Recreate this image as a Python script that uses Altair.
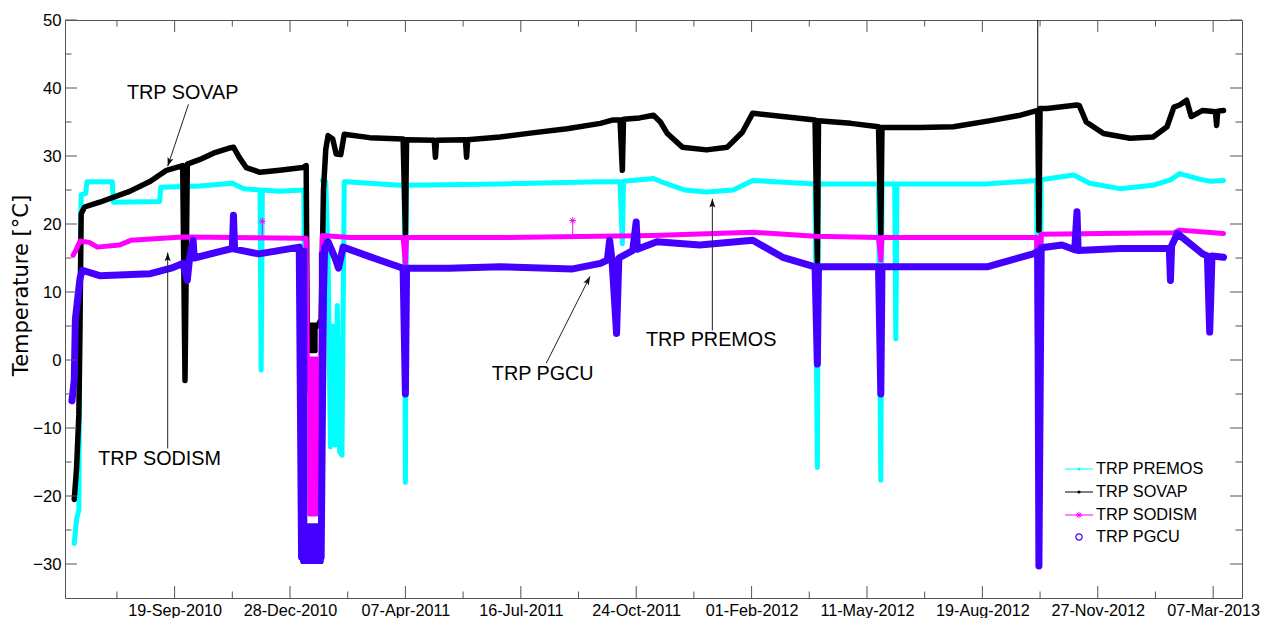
import math
import altair as alt
import pandas as pd

# ---------------- data ----------------
premos_dates = [
    "2010-06-24", "2010-06-26", "2010-06-28", "2010-06-29", "2010-06-30", "2010-07-04",
    "2010-07-05", "2010-07-27", "2010-07-28", "2010-09-06", "2010-09-07", "2010-10-11",
    "2010-11-08", "2010-11-18", "2010-12-02", "2010-12-03", "2010-12-04", "2010-12-19",
    "2011-01-09", "2011-01-10", "2011-01-11",
    "2011-01-25", "2011-01-28", "2011-01-30", "2011-02-01", "2011-02-03", "2011-02-05",
    "2011-02-07", "2011-02-09", "2011-02-11", "2011-02-13", "2011-02-15",
    "2011-04-02", "2011-04-06", "2011-04-07", "2011-04-08", "2011-06-28", "2011-09-23",
    "2011-10-10", "2011-10-12", "2011-10-13", "2011-11-08", "2011-11-18", "2011-12-05",
    "2011-12-24", "2012-01-16", "2012-02-02", "2012-03-27", "2012-03-29", "2012-03-30",
    "2012-05-21", "2012-05-23", "2012-05-24", "2012-06-04", "2012-06-05", "2012-06-06",
    "2012-08-23", "2012-10-05", "2012-10-07", "2012-10-09", "2012-11-06", "2012-11-20",
    "2012-12-16", "2013-01-14", "2013-01-29", "2013-02-06", "2013-02-23", "2013-03-04",
    "2013-03-16",
]
premos_values = [
    -27.0, -23.5, -22.0, 10.0, 24.3, 24.5,
    26.2, 26.2, 23.2, 23.3, 25.4, 25.6,
    26.0, 25.2, 25.0, -1.5, 25.0, 24.8,
    25.0, -20.0, None,
    26.4, 26.2, 15.0, -12.8, 5.0, -12.5,
    8.0, -13.5, -14.0, 26.2, 26.2,
    25.7, 25.7, -18.0, 25.7, 25.9, 26.2,
    26.2, 17.1, 26.3, 26.7, 26.0, 25.0,
    24.7, 25.0, 26.4, 25.9, -15.8, 25.9,
    25.9, -17.7, 25.9, 25.9, 3.1, 25.9,
    25.9, 26.4, -29.0, 26.5, 27.2, 26.0,
    25.2, 25.7, 26.5, 27.4, 26.6, 26.3,
    26.4,
]

sovap_dates = [
    "2010-06-24", "2010-06-26", "2010-06-28", "2010-06-29", "2010-06-30", "2010-07-03",
    "2010-07-16", "2010-08-11", "2010-08-29", "2010-09-12", "2010-09-26", "2010-09-28",
    "2010-09-30", "2010-10-11", "2010-10-24", "2010-11-06", "2010-11-09", "2010-11-14",
    "2010-11-20", "2010-12-02", "2010-12-19", "2011-01-08", "2011-01-11", "2011-01-12",
    "2011-01-16", "2011-01-21", "2011-01-24", "2011-01-26", "2011-01-28", "2011-01-30",
    "2011-02-03", "2011-02-06", "2011-02-10", "2011-02-13", "2011-03-07", "2011-04-05",
    "2011-04-07", "2011-04-08", "2011-05-02", "2011-05-03", "2011-05-04", "2011-05-29",
    "2011-05-30", "2011-05-31", "2011-06-28", "2011-07-26", "2011-08-25", "2011-09-23",
    "2011-10-04", "2011-10-10", "2011-10-12", "2011-10-13", "2011-10-27", "2011-11-08",
    "2011-11-14", "2011-11-20", "2011-12-03", "2011-12-24", "2012-01-11", "2012-01-24",
    "2012-02-02", "2012-02-28", "2012-03-27", "2012-03-29", "2012-03-30", "2012-04-27",
    "2012-05-21", "2012-05-23", "2012-05-24", "2012-06-26", "2012-07-25", "2012-08-26",
    "2012-09-21", "2012-10-06", "2012-10-07", "2012-10-08", "2012-10-14", "2012-11-09",
    "2012-11-11", "2012-11-17", "2012-12-02", "2012-12-25", "2013-01-14", "2013-01-26",
    "2013-02-01", "2013-02-06", "2013-02-12", "2013-02-16", "2013-02-26", "2013-03-09",
    "2013-03-10", "2013-03-11", "2013-03-16",
]
sovap_values = [
    -20.5, -16.0, -8.0, 5.0, 21.5, 22.5,
    23.2, 24.8, 26.3, 27.9, 28.6, -3.0,
    28.8, 29.5, 30.5, 31.2, 31.3, 29.8,
    28.3, 27.6, 27.9, 28.3, 28.6, 2.0,
    4.5, 5.0, 6.0, 25.0, 31.0, 33.0,
    32.5, 30.3, 30.2, 33.2, 32.7, 32.5,
    18.6, 32.4, 32.3, 29.8, 32.3, 32.4,
    29.8, 32.4, 32.8, 33.4, 34.0, 34.8,
    35.3, 35.3, 27.9, 35.4, 35.6, 36.0,
    35.0, 33.3, 31.3, 30.9, 31.3, 33.5,
    36.3, 35.8, 35.3, 14.5, 35.2, 34.8,
    34.3, 18.6, 34.2, 34.2, 34.3, 35.2,
    36.0, 36.7, 19.1, 37.0, 37.0, 37.5,
    37.4, 35.0, 33.3, 32.6, 32.8, 34.3,
    37.2, 37.5, 38.2, 35.8, 36.7, 36.5,
    34.5, 36.6, 36.7,
]
sovap_spike_dates = ["2012-10-06", "2012-10-06"]
sovap_spike_values = [36.7, 60.0]

sodism_dates = [
    "2010-06-23", "2010-06-25", "2010-06-29", "2010-07-07", "2010-07-14", "2010-08-02",
    "2010-08-12", "2010-09-26", "2010-11-09", "2011-01-09", "2011-01-11", "2011-01-12",
    "2011-01-22", "2011-01-25", "2011-02-18", "2011-04-05", "2011-04-07", "2011-04-08",
    "2011-06-28", "2011-11-08", "2012-02-02", "2012-03-27", "2012-05-21", "2012-05-23",
    "2012-05-24", "2012-10-05", "2012-10-07", "2012-10-09", "2012-11-30", "2013-02-01",
    "2013-02-06", "2013-03-16",
]
sodism_values = [
    15.4, 16.0, 17.5, 17.3, 16.6, 16.9,
    17.6, 18.1, 18.0, 17.9, 17.9, 0.4,
    -22.5, 18.3, 18.0, 18.0, 14.2, 18.0,
    18.0, 18.3, 18.8, 18.2, 18.0, 14.7,
    18.0, 18.0, -25.0, 18.5, 18.6, 18.7,
    19.1, 18.6,
]
sodism_outlier_dates = ["2010-12-04", "2011-08-30"]
sodism_outlier_values = [20.4, 20.5]
sodism_outlier_base = [18.0, 18.0]

pgcu_dates = [
    "2010-06-22", "2010-06-24", "2010-06-25", "2010-06-26", "2010-06-29", "2010-07-01",
    "2010-07-16", "2010-08-29", "2010-09-16", "2010-09-26", "2010-09-30", "2010-10-02",
    "2010-10-05", "2010-10-06", "2010-11-08", "2010-11-09", "2010-11-10", "2010-12-01",
    "2011-01-05", "2011-01-07", "2011-01-24", "2011-01-26", "2011-01-27", "2011-01-30",
    "2011-02-05", "2011-02-08", "2011-02-12", "2011-03-07", "2011-04-05", "2011-04-07",
    "2011-04-08", "2011-05-15", "2011-06-28", "2011-08-30", "2011-09-23", "2011-09-29",
    "2011-10-01", "2011-10-03", "2011-10-07", "2011-10-09", "2011-10-21", "2011-10-24",
    "2011-10-25", "2011-11-11", "2011-12-18", "2012-02-02", "2012-02-28", "2012-03-27",
    "2012-03-29", "2012-03-30", "2012-05-21", "2012-05-23", "2012-05-24", "2012-08-23",
    "2012-10-02", "2012-10-06", "2012-10-07", "2012-10-09", "2012-10-27", "2012-11-07",
    "2012-11-09", "2012-11-10", "2012-12-16", "2013-01-14", "2013-01-28", "2013-01-29",
    "2013-01-30", "2013-02-04", "2013-02-26", "2013-03-02", "2013-03-04", "2013-03-06",
    "2013-03-16",
]
pgcu_values = [
    -6.0, -3.0, 6.0, 7.5, 12.0, 13.2,
    12.4, 12.7, 13.5, 14.2, 11.7, 15.0,
    17.6, 15.0, 16.4, 21.3, 16.3, 15.6,
    16.6, -29.0, -29.0, 10.0, 16.5, 17.4,
    15.0, 13.5, 16.6, 15.2, 13.5, -5.0,
    13.5, 13.5, 13.7, 13.4, 14.2, 14.7,
    17.6, 14.8, 3.9, 15.0, 16.1, 20.3,
    16.3, 17.4, 16.9, 17.6, 15.1, 13.7,
    -0.6, 13.7, 13.7, -5.0, 13.7, 13.7,
    15.6, 16.0, -30.3, 16.5, 16.9, 16.2,
    21.8, 16.1, 16.4, 16.4, 16.4, 11.7,
    16.8, 18.6, 15.6, 15.3, 4.1, 15.3,
    15.1,
]

# dense clouds of samples during the January 2011 outage (series, start, end, low, high)
cloud_series = ["TRP SOVAP", "TRP SODISM", "TRP PGCU", "TRP PGCU", "TRP PGCU"]
cloud_start = ["2011-01-12", "2011-01-12", "2011-01-06", "2011-01-06", "2011-01-22"]
cloud_end = ["2011-01-21", "2011-01-22", "2011-01-12", "2011-01-26", "2011-01-26"]
cloud_low = [1.0, -23.0, -30.0, -30.0, -30.0]
cloud_high = [5.5, 0.5, 16.5, -24.0, 16.0]

series_names = ["TRP PREMOS", "TRP SOVAP", "TRP SODISM", "TRP PGCU"]
series_colors = ["#00FFFF", "#000000", "#FF00FF", "#4400FF"]
legend_markers = ["dot", "dot", "asterisk", "circle"]
legend_has_line = [True, True, True, False]

ann_labels = ["TRP SOVAP", "TRP SODISM", "TRP PGCU", "TRP PREMOS"]
ann_text_dates = ["2010-09-26", "2010-09-06", "2011-08-04", "2011-12-28"]
ann_text_values = [39.25, -14.5, -2.1, 2.9]
arrow_start_dates = ["2010-10-01", "2010-09-13", "2011-08-07", "2011-12-29"]
arrow_start_values = [37.6, -13.0, -0.5, 4.35]
arrow_end_dates = ["2010-09-13", "2010-09-13", "2011-09-14", "2011-12-29"]
arrow_end_values = [28.5, 15.8, 12.3, 23.7]

x_domain = ["2010-06-16", "2013-04-01"]
y_domain = [-35, 50]
x_major_ticks = ["2010-09-19", "2010-12-28", "2011-04-07", "2011-07-16", "2011-10-24",
                 "2012-02-01", "2012-05-11", "2012-08-19", "2012-11-27", "2013-03-07"]
x_minor_ticks = ["2010-07-31", "2010-11-08", "2011-02-16", "2011-05-27", "2011-09-04",
                 "2011-12-13", "2012-03-22", "2012-06-30", "2012-10-08", "2013-01-16"]
y_major_ticks = [-30, -20, -10, 0, 10, 20, 30, 40, 50]
y_minor_ticks = [-25, -15, -5, 5, 15, 25, 35, 45]
y_title = "Temperature [°C]"

# ---------------- styling / layout ----------------
W, H = 1177, 578
FONT = "Liberation Sans"
AXIS_COLOR = "#555555"
MAJOR_LEN, MINOR_LEN = 12, 6.5
LINE_WIDTHS = [5, 5.5, 5, 7]
ARROW_PATH = "M0,0L-0.35,1L0,0.8L0.35,1Z"
ASTERISK_PATH = "M-1,0H1M0,-1V1M-0.7,-0.7L0.7,0.7M-0.7,0.7L0.7,-0.7"
LEGEND_ROW_Y = [449, 472, 495, 517]
LEGEND_LINE_X = (1000, 1028)
LEGEND_MARK_X = 1014
LEGEND_TEXT_X = 1031


def dt(s):
    t = pd.Timestamp(s)
    return alt.DateTime(year=t.year, month=t.month, date=t.day, utc=True)


xscale = alt.Scale(type="utc", domain=[dt(d) for d in x_domain])
yscale = alt.Scale(domain=y_domain, nice=False, zero=False)

# the same axis definition is used by every layer, so that they merge into one axis
x_axis = alt.Axis(values=[dt(d) for d in x_major_ticks],
                  labelExpr="utcFormat(datum.value, '%d-%b-%Y')",
                  title="", ticks=False, domain=False, grid=False,
                  labelFont=FONT, labelFontSize=16.2, labelColor="black", labelPadding=4,
                  labelOverlap=False, labelFlush=False)
y_axis = alt.Axis(values=y_major_ticks, title=y_title, ticks=False,
                  domain=False, grid=False, labelFont=FONT, labelFontSize=16.7,
                  labelColor="black", labelPadding=4, titleFont="DejaVu Sans", titleFontSize=21,
                  titleFontWeight="normal", titleColor="black", titleAngle=270,
                  titleAlign="center", titleBaseline="middle", titleX=-44, titleY=265)


def xe(field="date"):
    return alt.X(f"{field}:T", scale=xscale, axis=x_axis)


def ye(field="value"):
    return alt.Y(f"{field}:Q", scale=yscale, axis=y_axis)


def series_line(dates, values, color, width):
    df = pd.DataFrame({"date": dates, "value": values})
    return alt.Chart(df).mark_line(
        color=color, strokeWidth=width, strokeCap="round", strokeJoin="round",
        clip=True, invalid="break-paths-show-domains",
    ).encode(x=xe(), y=ye())


cloud_df = pd.DataFrame({"series": cloud_series, "start": cloud_start, "end": cloud_end,
                         "low": cloud_low, "high": cloud_high})


def clouds(name, color):
    return (alt.Chart(cloud_df).transform_filter(alt.datum.series == name)
            .mark_rect(color=color, cornerRadius=2)
            .encode(x=xe("start"), x2="end:T", y=ye("low"), y2="high:Q"))


layers = [
    series_line(premos_dates, premos_values, series_colors[0], LINE_WIDTHS[0]),
    series_line(sovap_dates, sovap_values, series_colors[1], LINE_WIDTHS[1]),
    clouds("TRP SOVAP", series_colors[1]),
    alt.Chart(pd.DataFrame({"date": sovap_spike_dates, "value": sovap_spike_values}))
    .mark_line(color=series_colors[1], strokeWidth=1, clip=True)
    .encode(x=xe(), y=ye()),
    series_line(sodism_dates, sodism_values, series_colors[2], LINE_WIDTHS[2]),
    clouds("TRP SODISM", series_colors[2]),
]

out_df = pd.DataFrame({"date": sodism_outlier_dates, "value": sodism_outlier_values,
                       "base": sodism_outlier_base})
layers.append(alt.Chart(out_df).mark_rule(color=series_colors[2], strokeWidth=1)
              .encode(x=xe(), y=ye(), y2="base:Q"))
layers.append(alt.Chart(out_df).mark_point(shape=ASTERISK_PATH, filled=False, size=45,
                                           color=series_colors[2], strokeWidth=1, opacity=1)
              .encode(x=xe(), y=ye()))
layers.append(series_line(pgcu_dates, pgcu_values, series_colors[3], LINE_WIDTHS[3]))
layers.append(clouds("TRP PGCU", series_colors[3]))

# tick marks (inward, on all four sides)
for ticks, ln in ((x_major_ticks, MAJOR_LEN), (x_minor_ticks, MINOR_LEN)):
    tdf = pd.DataFrame({"date": ticks})
    layers.append(alt.Chart(tdf).mark_rule(color=AXIS_COLOR, strokeWidth=1)
                  .encode(x=xe(), y=alt.value(H), y2=alt.value(H - ln)))
    layers.append(alt.Chart(tdf).mark_rule(color=AXIS_COLOR, strokeWidth=1)
                  .encode(x=xe(), y=alt.value(0), y2=alt.value(ln)))
for ticks, ln in ((y_major_ticks, MAJOR_LEN), (y_minor_ticks, MINOR_LEN)):
    tdf = pd.DataFrame({"value": ticks})
    layers.append(alt.Chart(tdf).mark_rule(color=AXIS_COLOR, strokeWidth=1)
                  .encode(y=ye(), x=alt.value(0), x2=alt.value(ln)))
    layers.append(alt.Chart(tdf).mark_rule(color=AXIS_COLOR, strokeWidth=1)
                  .encode(y=ye(), x=alt.value(W), x2=alt.value(W - ln)))

# annotations with arrows
days_total = (pd.Timestamp(x_domain[1]) - pd.Timestamp(x_domain[0])).days
px_day = W / days_total
px_unit = H / (y_domain[1] - y_domain[0])
angles = []
for sd, sv, ed, ev in zip(arrow_start_dates, arrow_start_values, arrow_end_dates, arrow_end_values):
    dx = (pd.Timestamp(ed) - pd.Timestamp(sd)).days * px_day
    dy = -(ev - sv) * px_unit
    angles.append(math.degrees(math.atan2(dx, -dy)) % 360)

arr_df = pd.DataFrame({"sdate": arrow_start_dates, "svalue": arrow_start_values,
                       "edate": arrow_end_dates, "evalue": arrow_end_values, "angle": angles})
layers.append(alt.Chart(arr_df).mark_rule(color="#222222", strokeWidth=1)
              .encode(x=xe("sdate"), x2="edate:T", y=ye("svalue"), y2="evalue:Q"))
layers.append(alt.Chart(arr_df).mark_point(shape=ARROW_PATH, filled=True, size=300,
                                           color="#111111", opacity=1)
              .encode(x=xe("edate"), y=ye("evalue"), angle=alt.Angle("angle:Q", scale=None)))
txt_df = pd.DataFrame({"label": ann_labels, "date": ann_text_dates, "value": ann_text_values})
layers.append(alt.Chart(txt_df).mark_text(font=FONT, fontSize=19.8, color="black",
                                          align="center", baseline="middle")
              .encode(x=xe(), y=ye(), text="label:N"))

# legend (drawn manually, MATLAB style)
for name, color, marker, has_line, row_y in zip(series_names, series_colors, legend_markers,
                                               legend_has_line, LEGEND_ROW_Y):
    ldf = pd.DataFrame({"series": [name]})
    base = alt.Chart(ldf)
    if has_line:
        layers.append(base.mark_rule(color=color, strokeWidth=1).encode(
            x=alt.value(LEGEND_LINE_X[0]), x2=alt.value(LEGEND_LINE_X[1]), y=alt.value(row_y)))
    if marker == "dot":
        mk = base.mark_point(shape="circle", filled=True, size=10, color=color, opacity=1)
    elif marker == "asterisk":
        mk = base.mark_point(shape=ASTERISK_PATH, filled=False, size=40, strokeWidth=1,
                             color=color, opacity=1)
    else:
        mk = base.mark_point(shape="circle", filled=False, size=40, strokeWidth=1.2,
                             color=color, opacity=1)
    layers.append(mk.encode(x=alt.value(LEGEND_MARK_X), y=alt.value(row_y)))
    layers.append(base.mark_text(font=FONT, fontSize=16.3, color="black", align="left",
                                 baseline="middle")
                  .encode(x=alt.value(LEGEND_TEXT_X), y=alt.value(row_y), text="series:N"))

chart = (
    alt.layer(*layers)
    .properties(width=W, height=H, autosize="none",
                padding={"left": 65, "top": 20, "right": 25, "bottom": 20})
    .configure(font=FONT)
    .configure_view(stroke=AXIS_COLOR, strokeWidth=1)
)

chart.save("out.html", embed_options={"renderer": "svg", "actions": False})
